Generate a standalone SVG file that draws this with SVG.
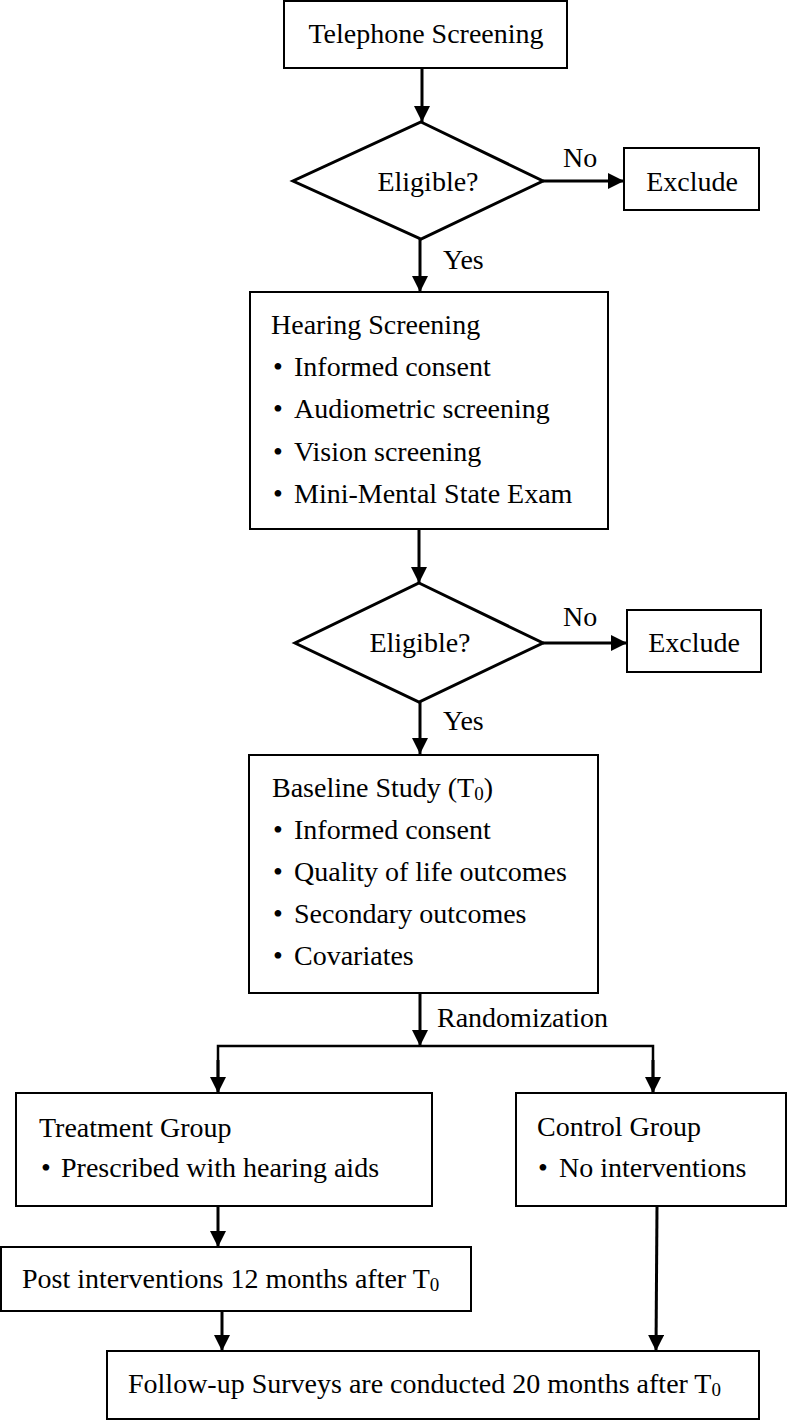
<svg xmlns="http://www.w3.org/2000/svg" width="787" height="1420" viewBox="0 0 787 1420">
<style>
text{font-family:"Liberation Serif","Times New Roman",serif;font-size:28px;fill:#000}
.box{fill:#fff;stroke:#000;stroke-width:2}
.dia{fill:#fff;stroke:#000;stroke-width:3}
.c{text-anchor:middle}
.con{fill:none;stroke:#000;stroke-width:3}
.sub{font-size:19px}
</style>
<defs>
<marker id="ah" markerUnits="userSpaceOnUse" markerWidth="16" markerHeight="16" viewBox="0 0 16 16" refX="16" refY="8" orient="auto">
<path d="M0,0 L16,8 L0,16 Z" fill="#000"/>
</marker>
</defs>
<rect width="787" height="1420" fill="#fff"/>
<g id="connectors">
<line class="con" x1="422" y1="68" x2="422" y2="122" marker-end="url(#ah)"/>
<line class="con" x1="543" y1="181" x2="624" y2="181" marker-end="url(#ah)"/>
<line class="con" x1="420" y1="239" x2="420" y2="292" marker-end="url(#ah)"/>
<line class="con" x1="419" y1="529" x2="419" y2="583" marker-end="url(#ah)"/>
<line class="con" x1="543" y1="643" x2="627" y2="643" marker-end="url(#ah)"/>
<line class="con" x1="420" y1="702" x2="420" y2="754" marker-end="url(#ah)"/>
<line class="con" x1="420" y1="993" x2="420" y2="1046" marker-end="url(#ah)"/>
<polyline class="con" points="218,1094 218,1046 653,1046 653,1094" style="stroke-width:2.5"/>
<line class="con" x1="218" y1="1060" x2="218" y2="1093" marker-end="url(#ah)"/>
<line class="con" x1="653" y1="1060" x2="653" y2="1093" marker-end="url(#ah)"/>
<line class="con" x1="218" y1="1206" x2="218" y2="1247" marker-end="url(#ah)"/>
<line class="con" x1="222" y1="1311" x2="222" y2="1351" marker-end="url(#ah)"/>
<line class="con" x1="657" y1="1206" x2="656" y2="1351" marker-end="url(#ah)"/>
<text x="563" y="167">No</text>
<text x="443" y="269">Yes</text>
<text x="563" y="626">No</text>
<text x="443" y="730">Yes</text>
<text x="437" y="1027">Randomization</text>
</g>
<g id="telephone">
<rect class="box" x="284" y="1" width="283" height="67"/>
<text class="c" x="426" y="43">Telephone Screening</text>
</g>
<g id="eligible1">
<polygon class="dia" points="421,122 543,181 421,239 293,181"/>
<text class="c" x="428" y="191">Eligible?</text>
</g>
<g id="exclude1">
<rect class="box" x="624" y="148" width="135" height="62"/>
<text class="c" x="692" y="191">Exclude</text>
</g>
<g id="hearing">
<rect class="box" x="250" y="292" width="358" height="237"/>
<text x="271" y="334">Hearing Screening</text>
<text x="273" y="376">•</text><text x="294" y="376">Informed consent</text>
<text x="273" y="418">•</text><text x="294" y="418">Audiometric screening</text>
<text x="273" y="461">•</text><text x="294" y="461">Vision screening</text>
<text x="273" y="503">•</text><text x="294" y="503">Mini-Mental State Exam</text>
</g>
<g id="eligible2">
<polygon class="dia" points="419,583 543,643 419,702 295,643"/>
<text class="c" x="420" y="652">Eligible?</text>
</g>
<g id="exclude2">
<rect class="box" x="627" y="610" width="134" height="62"/>
<text class="c" x="694" y="652">Exclude</text>
</g>
<g id="baseline">
<rect class="box" x="249" y="755" width="349" height="238"/>
<text x="272" y="797">Baseline Study (T<tspan class="sub" dy="3">0</tspan><tspan dy="-3">)</tspan></text>
<text x="273" y="839">•</text><text x="294" y="839">Informed consent</text>
<text x="273" y="881">•</text><text x="294" y="881">Quality of life outcomes</text>
<text x="273" y="923">•</text><text x="294" y="923">Secondary outcomes</text>
<text x="273" y="965">•</text><text x="294" y="965">Covariates</text>
</g>
<g id="treatment">
<rect class="box" x="16" y="1093" width="416" height="113"/>
<text x="39" y="1137">Treatment Group</text>
<text x="41" y="1177">•</text><text x="61" y="1177">Prescribed with hearing aids</text>
</g>
<g id="control">
<rect class="box" x="516" y="1093" width="270" height="113"/>
<text x="537" y="1136">Control Group</text>
<text x="538" y="1177">•</text><text x="559" y="1177">No interventions</text>
</g>
<g id="post">
<rect class="box" x="1" y="1247" width="470" height="64"/>
<text x="22" y="1288">Post interventions 12 months after T<tspan class="sub" dy="3">0</tspan></text>
</g>
<g id="followup">
<rect class="box" x="107" y="1351" width="652" height="68"/>
<text x="128" y="1393">Follow-up Surveys are conducted 20 months after T<tspan class="sub" dy="3">0</tspan></text>
</g>
</svg>
